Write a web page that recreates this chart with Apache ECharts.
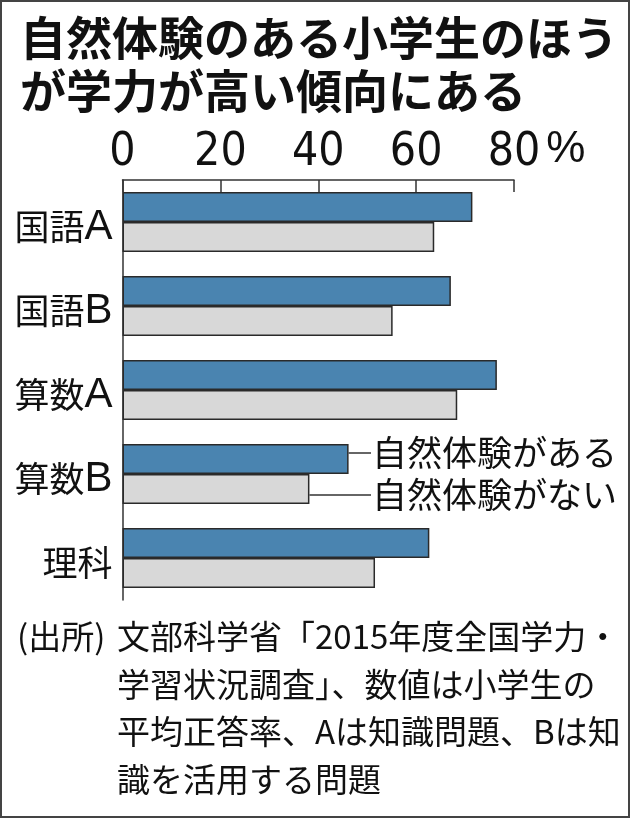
<!DOCTYPE html>
<html>
<head>
<meta charset="utf-8">
<script src="https://cdn.jsdelivr.net/npm/echarts@6/dist/echarts.min.js"></script>
<style>
html,body{margin:0;padding:0;background:#fff;}
#c{width:630px;height:818px;}
</style>
</head>
<body>
<div id="c"></div>
<script>
const categories = ['国語A', '国語B', '算数A', '算数B', '理科'];
const withNature = [71.5, 67.1, 76.5, 46.2, 62.7];
const withoutNature = [63.7, 55.2, 68.4, 38.2, 51.6];
const seriesNames = ['自然体験がある', '自然体験がない'];
const xTicks = [0, 20, 40, 60, 80];
const titleText = '自然体験のある小学生のほう\nが学力が高い傾向にある';
const sourceLabel = '(出所)';
const sourceText = '文部科学省「2015年度全国学力・\n学習状況調査」、数値は小学生の\n平均正答率、Aは知識問題、Bは知\n識を活用する問題';
const annotatedCategory = 3;

const CJK = '"Noto Sans CJK JP", "Noto Sans", sans-serif';
const NARROW = '"Liberation Sans Narrow", "DejaVu Sans Condensed", "Liberation Sans", sans-serif';

const chart = echarts.init(document.getElementById('c'), null, {renderer: 'canvas'});

const option = {
  backgroundColor: '#ffffff',
  animation: false,
  title: [
    {
      text: titleText, left: 15, top: 6,
      textStyle: {fontSize: 46, fontWeight: 'bold', lineHeight: 53, fontFamily: CJK, color: '#111'}
    },
    {
      text: sourceLabel, left: 12, top: 608,
      textStyle: {fontSize: 33, fontWeight: 'normal', lineHeight: 47.5, fontFamily: CJK, color: '#111'}
    },
    {
      text: sourceText, left: 112, top: 608,
      textStyle: {fontSize: 33, fontWeight: 'normal', lineHeight: 47.5, fontFamily: CJK, color: '#111'}
    }
  ],
  grid: {left: 122.5, right: 116, top: 180, bottom: 218, containLabel: false},
  xAxis: {
    type: 'value', position: 'top',
    min: xTicks[0], max: xTicks[xTicks.length - 1], interval: xTicks[1] - xTicks[0],
    name: '%', nameLocation: 'end', nameGap: 18,
    nameTextStyle: {fontSize: 44, fontFamily: '"Liberation Sans", sans-serif', color: '#111',
      verticalAlign: 'bottom', lineHeight: 60},
    axisLine: {show: true, lineStyle: {color: '#333', width: 1.5}},
    axisTick: {show: true, inside: true, length: 12, lineStyle: {color: '#333', width: 1.5}},
    splitLine: {show: false},
    axisLabel: {fontSize: 46, fontFamily: NARROW, color: '#111', margin: 4}
  },
  yAxis: {
    type: 'category', inverse: true, data: categories,
    axisLine: {show: true, lineStyle: {color: '#333', width: 1.5}},
    axisTick: {show: false},
    axisLabel: {
      margin: 10,
      padding: [10, 0, 0, 0],
      formatter: function (v) {
        const m = v.match(/^(.*?)([A-Za-z]*)$/);
        return '{c|' + m[1] + '}' + (m[2] ? '{l|' + m[2] + '}' : '');
      },
      rich: {
        c: {fontSize: 35, fontFamily: CJK, color: '#111'},
        l: {fontSize: 42, fontFamily: '"Liberation Sans", sans-serif', color: '#111'}
      }
    }
  },
  series: [
    {
      type: 'bar', name: seriesNames[0], data: withNature,
      barWidth: 30, barGap: '0%',
      itemStyle: {color: '#4a84b0', borderColor: '#2a2a2a', borderWidth: 1.5}
    },
    {
      type: 'bar', name: seriesNames[1], data: withoutNature,
      barWidth: 30, barGap: '0%',
      itemStyle: {color: '#d8d8d8', borderColor: '#2a2a2a', borderWidth: 1.5}
    }
  ]
};
chart.setOption(option);

function drawAnnotations() {
  const yC = chart.convertToPixel({yAxisIndex: 0}, categories[annotatedCategory]);
  const xA = chart.convertToPixel({xAxisIndex: 0}, withNature[annotatedCategory]);
  const xB = chart.convertToPixel({xAxisIndex: 0}, withoutNature[annotatedCategory]);
  const textX = 372;
  const y1 = yC - 21, y2 = yC + 21;
  chart.setOption({
    graphic: [
      {type: 'rect', silent: true, shape: {x: 1, y: 1, width: 628, height: 816},
        style: {fill: 'none', stroke: '#444', lineWidth: 2}},
      {type: 'line', silent: true, shape: {x1: xA, y1: y1, x2: textX - 1, y2: y1},
        style: {stroke: '#333', lineWidth: 1.5}},
      {type: 'line', silent: true, shape: {x1: xB, y1: y2, x2: textX - 1, y2: y2},
        style: {stroke: '#333', lineWidth: 1.5}},
      {type: 'text', silent: true, x: textX, y: y1,
        style: {text: seriesNames[0], fontSize: 35, fontFamily: CJK, fill: '#111',
          textAlign: 'left', textVerticalAlign: 'middle', verticalAlign: 'middle'}},
      {type: 'text', silent: true, x: textX, y: y2,
        style: {text: seriesNames[1], fontSize: 35, fontFamily: CJK, fill: '#111',
          textAlign: 'left', textVerticalAlign: 'middle', verticalAlign: 'middle'}}
    ]
  });
}
drawAnnotations();
</script>
</body>
</html>
